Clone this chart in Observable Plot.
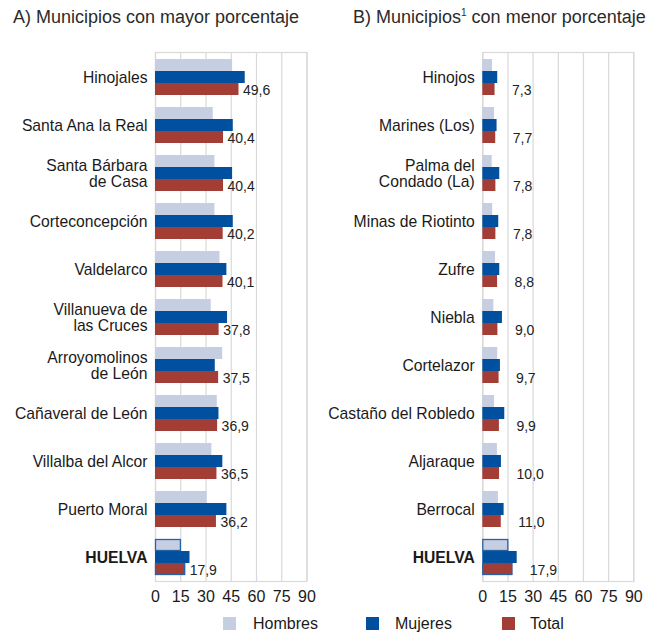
<!DOCTYPE html>
<html>
<head>
<meta charset="utf-8">
<script src="https://cdn.jsdelivr.net/npm/d3@7"></script>
<script src="https://cdn.jsdelivr.net/npm/@observablehq/plot@0.6"></script>
<style>
  html, body { margin: 0; padding: 0; background: #fff; }
  #root { position: relative; width: 663px; height: 634px; font-family: "Liberation Sans", Arial, sans-serif; color: #1a1a1a; }
  .title { position: absolute; top: 8px; font-size: 18px; line-height: 18px; color: #2b2b2b; white-space: nowrap; }
  .panel { position: absolute; top: 40px; height: 575px; }
  .panel svg { position: absolute; left: 0; top: 0; max-width: none !important; }
  .legend { position: absolute; top: 616px; font-size: 16px; line-height: 16px; }
  .sw { position: absolute; width: 13px; height: 13px; }
  .lt { position: absolute; white-space: nowrap; }
</style>
</head>
<body>
<div id="root">
  <div class="title" style="left:13px">A) Municipios con mayor porcentaje</div>
  <div class="title" style="left:353px">B) Municipios<sup style="font-size:10px;vertical-align:7px;line-height:0">1</sup> con menor porcentaje</div>
  <div class="panel" id="pa" style="left:0px;width:330px"></div>
  <div class="panel" id="pb" style="left:330px;width:333px"></div>
  <div class="legend" id="legend"></div>
</div>
<script>
// ---- Data ----
const series = ["Hombres", "Mujeres", "Total"];
const seriesColors = ["#c6cee2", "#00509f", "#a33e37"];
const xTicks = [0, 15, 30, 45, 60, 75, 90];

const municipiosA = ["Hinojales", "Santa Ana la Real", "Santa Bárbara\nde Casa", "Corteconcepción", "Valdelarco",
  "Villanueva de\nlas Cruces", "Arroyomolinos\nde León", "Cañaveral de León", "Villalba del Alcor", "Puerto Moral", "HUELVA"];
const hombresA = [45.8, 34.3, 35.3, 35.3, 38.3, 33.1, 39.9, 36.7, 33.5, 30.7, 15.4];
const mujeresA = [53.3, 46.2, 45.8, 46.2, 42.4, 42.8, 35.5, 37.7, 40.0, 42.4, 20.5];
const totalA   = [49.6, 40.4, 40.4, 40.2, 40.1, 37.8, 37.5, 36.9, 36.5, 36.2, 17.9];

const municipiosB = ["Hinojos", "Marines (Los)", "Palma del\nCondado (La)", "Minas de Riotinto", "Zufre", "Niebla",
  "Cortelazor", "Castaño del Robledo", "Aljaraque", "Berrocal", "HUELVA"];
const hombresB = [5.8, 7.0, 5.6, 5.9, 7.6, 6.6, 8.9, 7.0, 8.7, 9.3, 15.5];
const mujeresB = [8.9, 8.5, 10.1, 9.5, 10.1, 11.7, 10.5, 13.1, 11.1, 12.7, 20.5];
const totalB   = [7.3, 7.7, 7.8, 7.8, 8.8, 9.0, 9.7, 9.9, 10.0, 11.0, 17.9];

const fmt = v => d3.format(".1f")(v).replace(".", ",");
const gridColor = "#d9d9d9";
const H = 575, MT = 12, MB = 34;

function panel(host, {names, hombres, mujeres, total, width, marginLeft, marginRight, labelDx, labelDy}) {
  const rows = names.flatMap((n, i) => [
    {name: n, series: "Hombres", value: hombres[i]},
    {name: n, series: "Mujeres", value: mujeres[i]},
    {name: n, series: "Total", value: total[i]}
  ]);
  const totals = rows.filter(d => d.series === "Total");
  const outlined = rows.filter(d => d.name === "HUELVA" && d.series !== "Mujeres");
  const font = "'Liberation Sans', Arial, sans-serif";
  // background grid + frame (continuous across groups)
  const bg = Plot.plot({
    width, height: H, marginTop: MT, marginBottom: MB, marginLeft, marginRight,
    x: {domain: [0, 90], axis: null},
    style: {background: "transparent"},
    marks: [
      Plot.ruleX(xTicks, {stroke: gridColor, strokeWidth: 1.2}),
      Plot.frame({stroke: gridColor, strokeWidth: 1.2})
    ]
  });
  const svg = Plot.plot({
    width, height: H,
    marginTop: MT, marginBottom: MB, marginLeft, marginRight,
    x: {domain: [0, 90], axis: null},
    y: {domain: series, axis: null, padding: 0},
    fy: {domain: names, paddingInner: 0.25, paddingOuter: 0.125, axis: null},
    color: {domain: series, range: seriesColors},
    style: {fontSize: "16px", fontFamily: font, color: "#1a1a1a", background: "transparent", overflow: "visible"},
    marks: [
      Plot.axisX(xTicks, {anchor: "bottom", tickSize: 0, tickPadding: 15, label: null, fontSize: 16}),
      Plot.axisFy({anchor: "left", tickSize: 0, tickPadding: 8, label: null, fontSize: 15.7, lineHeight: 1.03}),
      Plot.barX(rows, {fy: "name", y: "series", x: "value", fill: "series"}),
      Plot.barX(outlined, {fy: "name", y: "series", x: "value", fill: "none", stroke: "#2a62a6", strokeWidth: 1.3, inset: 0.5}),
      Plot.text(totals, {fy: "name", y: "series", x: "value", text: d => fmt(d.value), textAnchor: "start",
        dx: labelDx, dy: labelDy, fontSize: 14, fill: "#222"})
    ]
  });
  svg.querySelectorAll("text").forEach(t => {
    if (t.textContent.trim() === "HUELVA") t.setAttribute("font-weight", "bold");
  });
  host.appendChild(bg);
  host.appendChild(svg);
}

panel(document.getElementById("pa"), {
  names: municipiosA, hombres: hombresA, mujeres: mujeresA, total: totalA,
  width: 330, marginLeft: 155, marginRight: 23.5, labelDx: 4, labelDy: 1
});
panel(document.getElementById("pb"), {
  names: municipiosB, hombres: hombresB, mujeres: mujeresB, total: totalB,
  width: 333, marginLeft: 152.3, marginRight: 29.7, labelDx: 17, labelDy: 1
});

// Legend
const legendPos = [[223, 253], [366, 395], [502, 530]];
const legend = document.getElementById("legend");
series.forEach((s, i) => {
  const sw = document.createElement("div");
  sw.className = "sw";
  sw.style.left = legendPos[i][0] + "px";
  sw.style.top = "1px";
  sw.style.background = seriesColors[i];
  legend.appendChild(sw);
  const t = document.createElement("div");
  t.className = "lt";
  t.style.left = legendPos[i][1] + "px";
  t.style.top = "0px";
  t.textContent = s;
  legend.appendChild(t);
});
</script>
</body>
</html>
